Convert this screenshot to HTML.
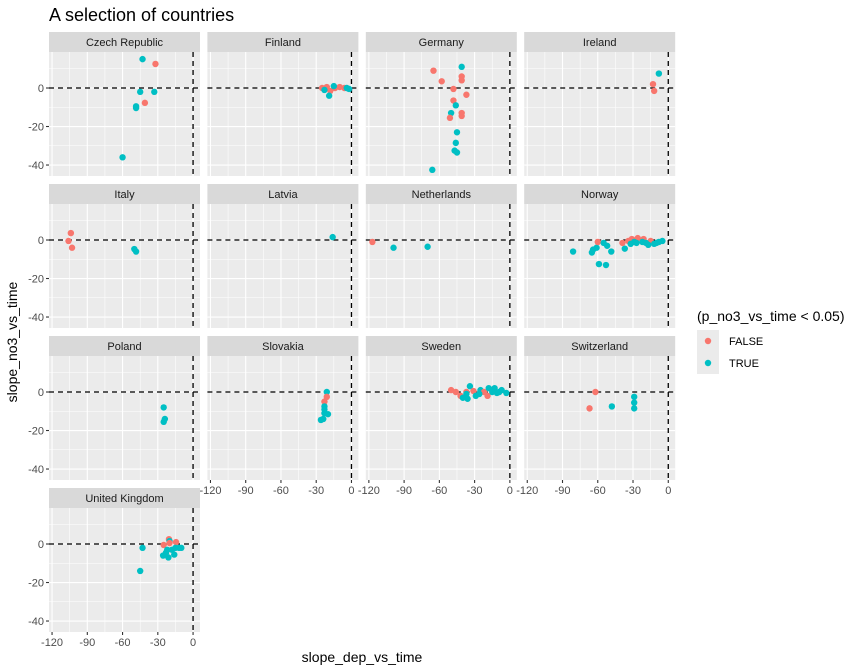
<!DOCTYPE html>
<html><head><meta charset="utf-8"><style>
body{margin:0;background:#fff;}
svg{display:block;font-family:"Liberation Sans",sans-serif;}
</style></head><body>
<svg id="chart" width="864" height="672" viewBox="0 0 864 672">
<text x="49" y="21" font-size="18" fill="#000">A selection of countries</text>
<text x="362" y="662" font-size="14" text-anchor="middle" fill="#000">slope_dep_vs_time</text>
<text transform="translate(17,342) rotate(-90)" font-size="14" text-anchor="middle" fill="#000">slope_no3_vs_time</text>
<g>
<text x="697" y="321" font-size="14" fill="#000">(p_no3_vs_time &lt; 0.05)</text>
<rect x="697" y="330" width="22" height="22" fill="#EBEBEB"/>
<circle cx="708" cy="341" r="3.2" fill="#F8766D"/>
<text x="729" y="345" font-size="11" fill="#000">FALSE</text>
<rect x="697" y="352" width="22" height="22" fill="#EBEBEB"/>
<circle cx="708" cy="363" r="3.2" fill="#00BFC4"/>
<text x="729" y="367" font-size="11" fill="#000">TRUE</text>
</g>
</svg>
<script>
const countries=["Czech Republic","Finland","Germany","Ireland","Italy","Latvia","Netherlands","Norway","Poland","Slovakia","Sweden","Switzerland","United Kingdom"];
const xTicks=[-120,-90,-60,-30,0];
const xMinor=[-105,-75,-45,-15];
const yTicks=[0,-20,-40];
const yMinor=[10,-10,-30];
// points per country: [x, y, significant(1=TRUE,0=FALSE)]
const czechPts=[[-43,15,1],[-45,-2,1],[-33,-2,1],[-48.5,-10.4,1],[-48.5,-9.5,1],[-60,-36,1],[-32,12.5,0],[-41,-7.7,0]];
const finlandPts=[[-25,0,0],[-21,0.5,0],[-18,-1.5,0],[-14,0,0],[-10,0.5,0],[-6,0,0],[-15,1,1],[-23,-1,1],[-19,-4,1],[-2,-0.5,1],[-4,0,1]];
const germanyPts=[[-41,11,1],[-65,9,0],[-41,6,0],[-41,4,0],[-58,3.5,0],[-48,-0.5,0],[-37,-3.5,0],[-48,-6.5,0],[-46,-9,1],[-50,-13,1],[-41,-13,0],[-41,-14.5,0],[-51,-15.5,0],[-45,-23,1],[-46,-28.5,1],[-47,-32.5,1],[-45,-33.5,1],[-66,-42.5,1]];
const irelandPts=[[-8,7.5,1],[-13,2,0],[-12,-1.5,0]];
const italyPts=[[-104,3.6,0],[-106,-0.5,0],[-103,-4,0],[-50,-4.7,1],[-48.5,-6,1]];
const latviaPts=[[-16,1.5,1]];
const netherlandsPts=[[-117,-1,0],[-99,-4,1],[-70,-3.5,1]];
const norwayPts=[[-81,-6,1],[-64,-5,1],[-65,-6.5,1],[-61,-4,1],[-60,-1,0],[-55,-1.5,1],[-52,-3,1],[-48.5,-6,1],[-59,-12.5,1],[-53,-13,1],[-37,-4.5,1],[-39,-1.5,0],[-34,-0.5,0],[-31,0.5,0],[-26,1,0],[-21,0.5,0],[-15,-0.5,0],[-32,-2,1],[-27,-1.5,1],[-22,-1,1],[-17,-2.5,1],[-12,-2,1],[-8,-1,1],[-5,-0.5,1],[-29,-1,1],[-19,-1.5,1],[-10,-1.5,1]];
const polandPts=[[-25,-8,1],[-24,-14,1],[-25,-15.5,1]];
const slovakiaPts=[[-21,0,1],[-21,-2.5,0],[-23,-5,0],[-23,-7.5,1],[-23,-9,1],[-23,-11,1],[-26,-14.5,1],[-24,-14,1],[-20,-11.5,1]];
const swedenPts=[[-50,1,0],[-46,0,0],[-42,-2,0],[-40,-3,1],[-36,-3.5,1],[-34,3,1],[-31,0.5,0],[-29,-2,1],[-25,1,1],[-22,0,0],[-19,-2,0],[-18,2,1],[-13,2,1],[-11,-0.5,1],[-7,1,1],[-3,-0.5,1],[-37,0,0],[-37,-1,1],[-26,-1,1],[-15,0,1],[-9,0,1]];
const switzerlandPts=[[-62,0,0],[-67,-8.5,0],[-48,-7.5,1],[-29,-2.5,1],[-29,-5.5,1],[-29,-8.5,1]];
const ukPts=[[-20.5,2.5,0],[-20,1.5,1],[-25,-0.5,0],[-20,0.5,0],[-14.5,1,0],[-43,-2,1],[-45,-14,1],[-22,-3,1],[-25.5,-6,1],[-21,-7,1],[-16,-5.5,1],[-12,-2,1],[-10,-2,1],[-18,-3,1],[-23,-4.5,1],[-15,-2,1]];
const allPts=[czechPts,finlandPts,germanyPts,irelandPts,italyPts,latviaPts,netherlandsPts,norwayPts,polandPts,slovakiaPts,swedenPts,switzerlandPts,ukPts];

const NS="http://www.w3.org/2000/svg";
const svg=document.getElementById("chart");
const PW=151,PH=124,XMIN=-122.6,XMAX=5.9,YMAX=18.7,YMIN=-45.7;
function mk(tag,attrs,parent){const e=document.createElementNS(NS,tag);for(const k in attrs)e.setAttribute(k,attrs[k]);(parent||svg).appendChild(e);return e;}
function slug(s){return s.toLowerCase().replace(/\s+/g,"-");}
countries.forEach((c,i)=>{
  const col=i%4,row=Math.floor(i/4);
  const left=49+col*158.4, stripTop=32+row*152, top=stripTop+20;
  const sx=v=>left+(v-XMIN)/(XMAX-XMIN)*PW;
  const sy=v=>top+(YMAX-v)/(YMAX-YMIN)*PH;
  const g=mk("g",{});
  
  
  const st=mk("rect",{x:left,y:stripTop,width:PW,height:20,fill:"#D9D9D9"},g);
  
  
  const stt=mk("text",{x:left+PW/2,y:stripTop+14,"font-size":11,"text-anchor":"middle",fill:"#1A1A1A"},g);
  stt.textContent=c;
  
  
  const bg=mk("rect",{x:left,y:top,width:PW,height:PH,fill:"#EBEBEB"},g);
  
  
  xMinor.forEach(v=>{const l=mk("line",{x1:sx(v),x2:sx(v),y1:top,y2:top+PH,stroke:"#fff","stroke-width":0.55},g);});
  yMinor.forEach(v=>{const l=mk("line",{x1:left,x2:left+PW,y1:sy(v),y2:sy(v),stroke:"#fff","stroke-width":0.55},g);});
  xTicks.forEach(v=>{const l=mk("line",{x1:sx(v),x2:sx(v),y1:top,y2:top+PH,stroke:"#fff","stroke-width":1.1},g);});
  yTicks.forEach(v=>{const l=mk("line",{x1:left,x2:left+PW,y1:sy(v),y2:sy(v),stroke:"#fff","stroke-width":1.1},g);});
  const hz=mk("line",{x1:left,x2:left+PW,y1:sy(0),y2:sy(0),stroke:"#000","stroke-width":1.3,"stroke-dasharray":"5,4"},g);
  
  
  const vz=mk("line",{x1:sx(0),x2:sx(0),y1:top,y2:top+PH,stroke:"#000","stroke-width":1.3,"stroke-dasharray":"5,4"},g);
  
  
  allPts[i].forEach(p=>{
    const pt=mk("circle",{cx:sx(p[0]),cy:sy(p[1]),r:3.2,fill:p[2]?"#00BFC4":"#F8766D"},g);
    
    
  });
  if(col===0){
    yTicks.forEach(v=>{
      const t=mk("line",{x1:left-3,x2:left,y1:sy(v),y2:sy(v),stroke:"#333","stroke-width":1.1},g);
      
      
      const tx=mk("text",{x:left-5,y:sy(v)+4,"font-size":11,"text-anchor":"end",fill:"#4D4D4D"},g);
      tx.textContent=v;
      
      
    });
  }
  const bottomRow = (i>=9) || i===12;
  if(bottomRow){
    xTicks.forEach(v=>{
      const t=mk("line",{x1:sx(v),x2:sx(v),y1:top+PH,y2:top+PH+3,stroke:"#333","stroke-width":1.1},g);
      
      
      const tx=mk("text",{x:sx(v),y:top+PH+14,"font-size":11,"text-anchor":"middle",fill:"#4D4D4D"},g);
      tx.textContent=v;
      
      
    });
  }
});
</script>
</body></html>
